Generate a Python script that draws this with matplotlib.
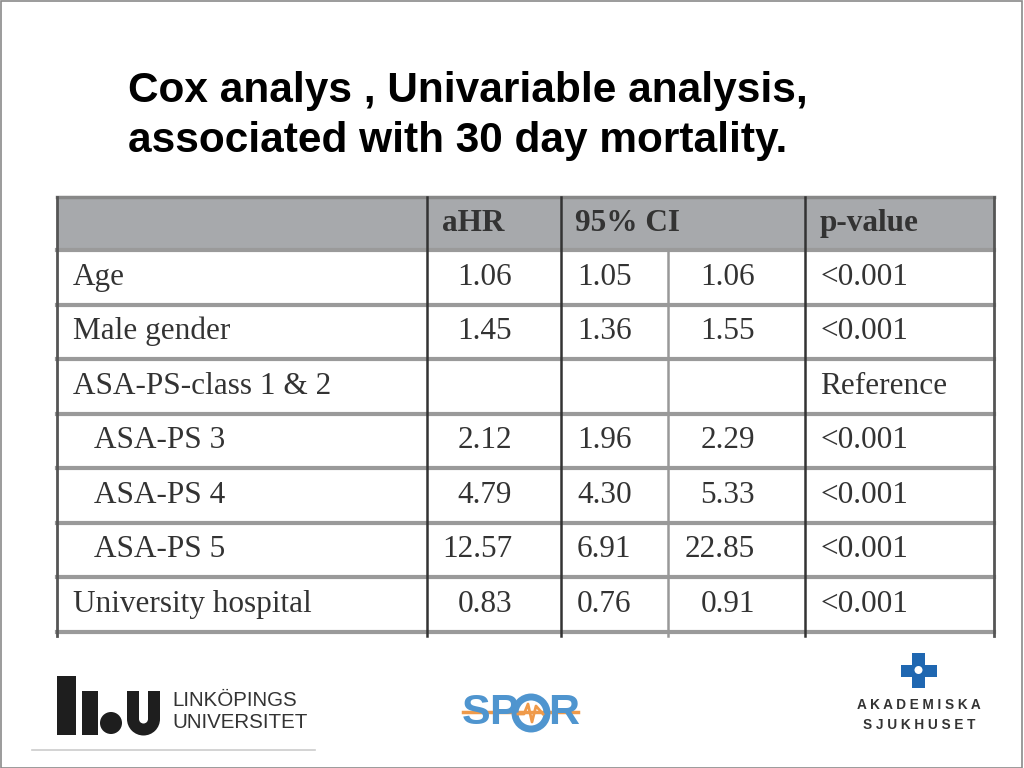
import matplotlib
matplotlib.use('Agg')
import matplotlib.pyplot as plt
from matplotlib.patches import Rectangle, Circle

#
# DATA
#
title_lines = ["Cox analys , Univariable analysis,", "associated with 30 day mortality."]
headers = ["aHR", "95% CI", "p-value"]
row_labels = ["Age", "Male gender", "ASA-PS-class 1 & 2", "ASA-PS 3", "ASA-PS 4",
              "ASA-PS 5", "University hospital"]
indented = [False, False, False, True, True, True, False]
ahr = ["1.06", "1.45", "", "2.12", "4.79", "12.57", "0.83"]
ci_low = ["1.05", "1.36", "", "1.96", "4.30", "6.91", "0.76"]
ci_high = ["1.06", "1.55", "", "2.29", "5.33", "22.85", "0.91"]
pvals = ["<0.001", "<0.001", "Reference", "<0.001", "<0.001", "<0.001", "<0.001"]

#
# FIGURE (pixel coordinates, y downwards)
#
fig = plt.figure(figsize=(10.24, 7.68), dpi=100)
ax = fig.add_axes([0, 0, 1, 1])
ax.set_xlim(0, 1024)
ax.set_ylim(768, 0)
ax.axis('off')

# slide border
ax.add_patch(Rectangle((0.5, 0.5), 1021, 767, fill=False, ec='#8a8a8a', lw=1.2))

# title
for i, t in enumerate(title_lines):
    ax.text(128, 91 + i * 50, t, fontsize=30.5, fontweight='bold', family='Liberation Sans',
            ha='left', va='center', color='black')

# table geometry
left, right = 57, 994
top, head_h, row_h = 197, 53, 54.5
cut = 636
col_x = [427, 561, 668, 805]
serif = 'Liberation Serif'
fs = 22.5
tc = '#333333'

# header
ax.add_patch(Rectangle((left, top), right - left, head_h, fc='#a7a9ac', ec='none'))
ax.plot([left, right], [top, top], color='#888888', lw=2.5)
hy = top + head_h / 2
ax.text(442, hy, headers[0], fontsize=fs, fontweight='bold', family=serif, color=tc, va='center')
ax.text(575, hy, headers[1], fontsize=fs, fontweight='bold', family=serif, color=tc, va='center')
ax.text(820, hy, headers[2], fontsize=fs, fontweight='bold', family=serif, color=tc, va='center')

# horizontal row lines
for i in range(len(row_labels) + 1):
    y = top + head_h + i * row_h
    ax.plot([left, right], [y, y], color='#9a9a9a', lw=3)

# vertical lines
ax.plot([left, left], [top, cut], color='#555555', lw=2)
ax.plot([right, right], [top, cut], color='#555555', lw=2)
for x in [col_x[0], col_x[1], col_x[3]]:
    ax.plot([x, x], [top, cut], color='#333333', lw=1.8)
ax.plot([col_x[2], col_x[2]], [top + head_h, cut], color='#999999', lw=1.8)

# rows
for i, lab in enumerate(row_labels):
    y = top + head_h + (i + 0.5) * row_h
    ax.text(94 if indented[i] else 73, y, lab, fontsize=fs, family=serif, color=tc, va='center')
    ax.text(512, y, ahr[i], fontsize=fs, family=serif, color=tc, va='center', ha='right')
    ax.text(577, y, ci_low[i], fontsize=fs, family=serif, color=tc, va='center', ha='left')
    ax.text(755, y, ci_high[i], fontsize=fs, family=serif, color=tc, va='center', ha='right')
    ax.text(820, y, pvals[i], fontsize=fs, family=serif, color=tc, va='center', ha='left')

# LiU logo
dark = '#1e1e1e'
ax.add_patch(Rectangle((57, 676), 19, 59, fc=dark, ec='none'))
ax.add_patch(Rectangle((82, 691), 16, 44, fc=dark, ec='none'))
ax.add_patch(Circle((111, 723), 11, fc=dark, ec='none'))
ax.add_patch(Rectangle((127, 691), 33, 28, fc=dark, ec='none'))
ax.add_patch(Circle((143.5, 719), 16.5, fc=dark, ec='none'))
ax.add_patch(Rectangle((139, 691), 9, 28, fc='white', ec='none'))
ax.add_patch(Circle((143.5, 719), 4.5, fc='white', ec='none'))
ax.text(172, 700, "LINKÖPINGS", fontsize=14.8, family='Liberation Sans', color='#333333',
        va='center', ha='left')
ax.text(172, 723, "UNIVERSITET", fontsize=14.8, family='Liberation Sans', color='#333333',
        va='center', ha='left')
ax.plot([32, 315], [750, 750], color='#cccccc', lw=1.2)

# SPOR logo
blue = '#4f95cf'
orange = '#ef9a4a'
ax.plot([463, 578], [712, 712], color=orange, lw=2.5, zorder=1)
for letter, lx in [("S", 476), ("P", 503), ("R", 564)]:
    ax.text(lx, 713, letter, fontsize=31, family='Liberation Sans', fontweight='bold',
            color=blue, va='center', ha='center', zorder=2)
ax.add_patch(Circle((531, 713), 16, fill=False, ec=blue, lw=5, zorder=2))
ax.plot([518, 524, 528, 532, 536, 543], [714, 714, 704, 722, 706, 714], color=orange, lw=2, zorder=3)

# Akademiska logo
cross = '#1f67b1'
ax.add_patch(Rectangle((912, 653), 13, 35, fc=cross, ec='none'))
ax.add_patch(Rectangle((901, 665), 36, 12, fc=cross, ec='none'))
ax.add_patch(Circle((918.5, 670), 4, fc='white', ec='none'))
ax.text(919, 705, "A K A D E M I S K A", fontsize=9.8, family='Liberation Sans',
        fontweight='bold', color='#333333', va='center', ha='center')
ax.text(919, 725, "S J U K H U S E T", fontsize=9.8, family='Liberation Sans',
        fontweight='bold', color='#333333', va='center', ha='center')

fig.savefig('out.png', dpi=100)
